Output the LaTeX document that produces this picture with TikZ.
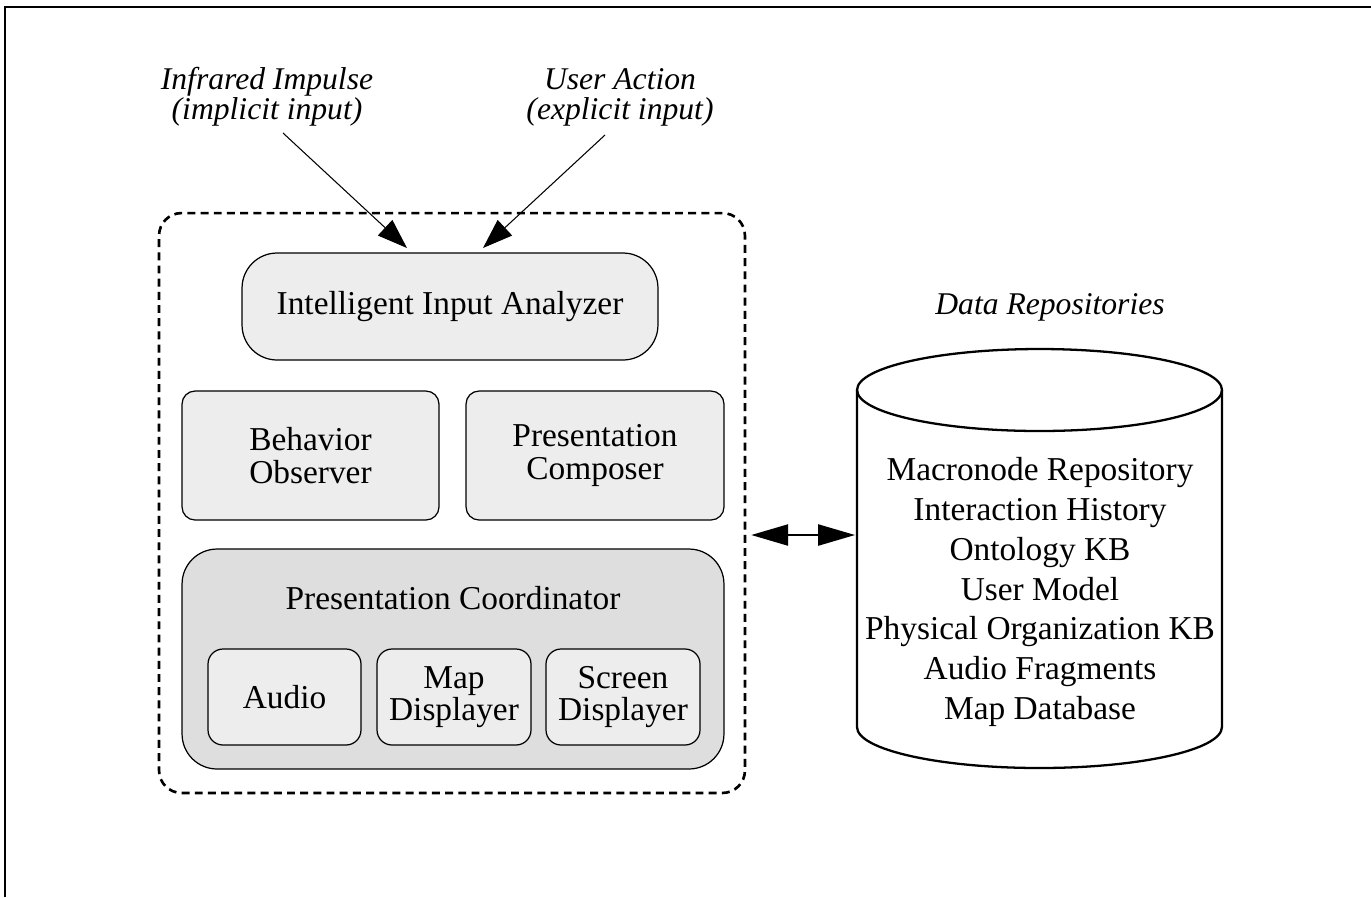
\documentclass[tikz,border=0pt]{standalone}
\usepackage{fontspec}
\setmainfont{Liberation Serif}
\usetikzlibrary{arrows.meta,positioning}
\definecolor{boxgray}{HTML}{EDEDED}
\definecolor{coordgray}{HTML}{DEDEDE}

\begin{document}
\begin{tikzpicture}[x=0.02cm,y=-0.02cm]
  \tikzset{module/.style = {draw,fill=boxgray,rounded corners=0.26cm,line width=0.7pt,align=center,inner sep=0pt,font=\fontsize{19}{18.5}\selectfont}}
  \tikzset{note/.style = {align=center,font=\fontsize{18}{17}\selectfont\itshape}}
  \tikzset{inarrow/.style = {-{Triangle[length=17pt,width=12pt]},line width=0.6pt}}
  \tikzset{dblarrow/.style = {{Triangle[length=21pt,width=12pt]}-{Triangle[length=21pt,width=12pt]},line width=1.2pt}}
  \useasboundingbox (0,0) rectangle (1371,897);
  \draw[line width=1pt] (5,897) -- (5,7) -- (1371,7);

  % input labels
  \node[note] (impl) at (267,97) {Infrared Impulse\\(implicit input)};
  \node[note] (expl) at (620,97) {User Action\\(explicit input)};
  \coordinate (implfrom) at (283,133);
  \coordinate (explfrom) at (605,135);
  \coordinate (implto) at (407,248);
  \coordinate (explto) at (483,248);

  % system
  \node[draw,dash pattern=on 4.5pt off 3pt,line width=1.5pt,rounded corners=0.45cm,
        minimum width=11.72cm,minimum height=11.6cm] (system) at (452,503) {};
  \node[module,rounded corners=0.7cm,minimum width=8.32cm,minimum height=2.14cm] (analyzer) at (450,306.5) {Intelligent Input Analyzer};
  \node[module,minimum width=5.14cm,minimum height=2.58cm] (observer) at (310.5,455.5) {Behavior\\Observer};
  \node[module,minimum width=5.16cm,minimum height=2.58cm] (composer) at (595,455.5) {Presentation\\Composer};
  \node[module,fill=coordgray,rounded corners=0.7cm,minimum width=10.84cm,minimum height=4.4cm] (coordinator) at (453,659) {};
  \node[font=\fontsize{19}{18.5}\selectfont] (coordlabel) at (453,598) {Presentation Coordinator};
  \node[module,rounded corners=0.3cm,minimum width=3.06cm,minimum height=1.92cm] (audio) at (284.5,697) {Audio};
  \node[module,rounded corners=0.3cm,minimum width=3.08cm,minimum height=1.92cm] (map) at (454,697) {Map\\Displayer};
  \node[module,rounded corners=0.3cm,minimum width=3.08cm,minimum height=1.92cm] (screen) at (623,697) {Screen\\Displayer};

  \draw[inarrow] (implfrom) -- (implto);
  \draw[inarrow] (explfrom) -- (explto);

  % data repositories
  \node[note] (repolabel) at (1050,307) {Data Repositories};
  \draw[line width=1.3pt] (1039.5,390) ellipse [x radius=3.65cm,y radius=0.82cm];
  \draw[line width=1.3pt] (857,390) -- (857,727) arc[start angle=180,end angle=360,x radius=3.65cm,y radius=0.82cm] -- (1222,390);
  \node[align=center,font=\fontsize{19}{22.7}\selectfont] (repos) at (1040,592)
    {Macronode Repository\\Interaction History\\Ontology KB\\User Model\\Physical Organization KB\\Audio Fragments\\Map Database};
  \coordinate (cyl) at (855,535);

  \draw[dblarrow] (system.east |- cyl) ++(5,0) -- (cyl);
\end{tikzpicture}
\end{document}
